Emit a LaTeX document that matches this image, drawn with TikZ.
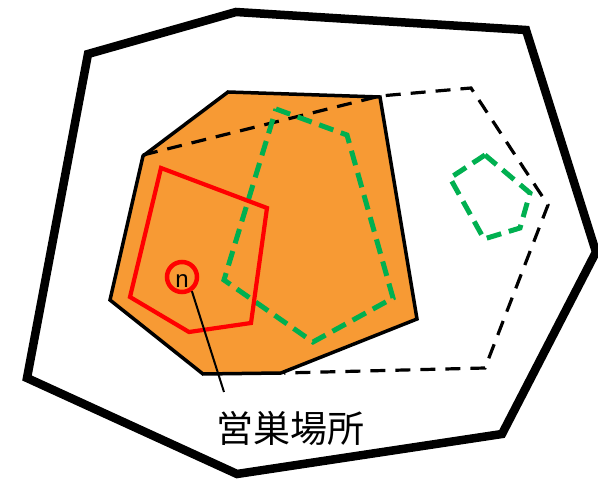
\documentclass[tikz,border=0pt]{standalone}
\usepackage{fontspec}
\newfontfamily\cjk{Noto Sans CJK JP}
\newfontfamily\arialf{Liberation Sans}
\definecolor{orangefill}{HTML}{F79A34}
\definecolor{greenline}{HTML}{00B050}
\definecolor{redline}{HTML}{FF0000}
\begin{document}
\begin{tikzpicture}[x=1pt,y=-1pt,
  outerpoly/.style={line width=8.5pt,line join=miter},
  rangepoly/.style={fill=orangefill,draw=black,line width=3.5pt,line join=miter},
  rangedash/.style={draw=black,line width=3.2pt,dash pattern=on 15pt off 10pt},
  greendash/.style={draw=greenline,line width=5pt,dash pattern=on 15pt off 8pt},
  redpoly/.style={draw=redline,line width=4.2pt,line join=miter}]
\useasboundingbox (0,0) rectangle (598,481);
% outer territory
\draw[outerpoly] (88,54) -- (236,12) -- (526,30) -- (596,252) -- (502,434) -- (237,474) -- (27,378) -- cycle;
% orange home range
\draw[rangepoly] (228,92) -- (380,97) -- (417,319) -- (281,373) -- (203,374) -- (110,300) -- (143,156) -- cycle;
% dashed extended range
\draw[rangedash] (143,155) -- (380,96) -- (471,88) -- (548,205) -- (485,368) -- (284,373);
% green dashed polygons
\draw[greendash] (276,109) -- (347,135) -- (393,298) -- (313,342) -- (224,280) -- cycle;
\draw[greendash] (485,155) -- (530,193) -- (520,228) -- (484,239) -- (450,178) -- cycle;
% red polygon
\draw[redpoly] (161,168) -- (267,208) -- (251,323) -- (189,332) -- (130,297) -- cycle;
% nest
\node[circle,draw=redline,line width=4.5pt,minimum size=30pt,inner sep=0pt] (nest) at (182,277) {};
\node[font=\arialf\fontsize{24}{24}\selectfont,inner sep=0pt] (nlabel) at (182,281) {n};
\node[font=\cjk\fontsize{37}{37}\selectfont,inner sep=0pt] (label) at (290,428) {営巣場所};
\coordinate (lineend) at (224,392);
\draw[line width=2pt] (nest.-55) -- (lineend);
\end{tikzpicture}
\end{document}
